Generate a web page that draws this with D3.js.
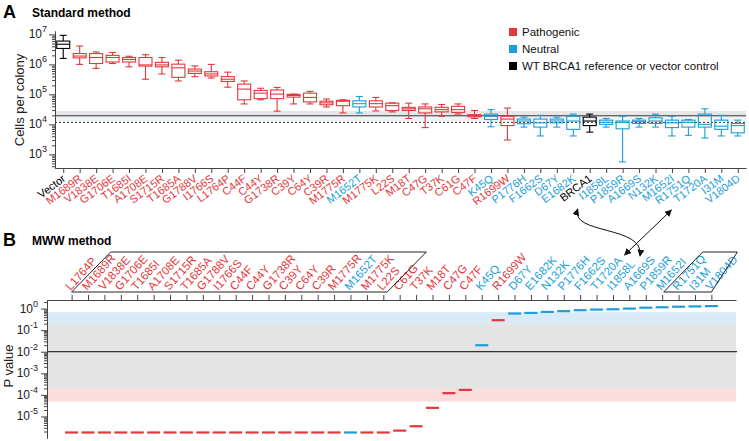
<!DOCTYPE html>
<html><head><meta charset="utf-8">
<script src="https://cdnjs.cloudflare.com/ajax/libs/d3/7.8.5/d3.min.js"></script>
<style>body{margin:0;background:#fff}svg{display:block;font-family:"Liberation Sans",Arial,sans-serif}</style>
</head><body><svg id="c" width="749" height="441"></svg>
<script>
// ---------- Panel A data (cells per colony, box plots) ----------
const catsA = ["Vector","M1689R","V1838E","G1706E","T1685I","A1708E","S1715R","T1685A","G1788V","I1766S","L1764P","C44F","C44Y","G1738R","C39Y","C64Y","C39R","M1775R","M1652T","M1775K","L22S","M18T","C47G","T37K","C61G","C47F","K45Q","R1699W","P1776H","F1662S","D67Y","E1682K","BRCA1","I1858L","P1859R","A1669S","N132K","M1652I","R1751Q","T1720A","I31M","V1804D"];
const groupA = ["w","p","p","p","p","p","p","p","p","p","p","p","p","p","p","p","p","p","n","p","p","p","p","p","p","p","n","p","n","n","n","n","w","n","n","n","n","n","n","n","n","n"];
const lowA  = [1.58e6,1.0e6,7.4e5,1.07e6,8.3e5,3.2e5,4.8e5,2.8e5,3.9e5,3.5e5,1.74e5,4.8e4,6.6e4,2.76e4,4.8e4,4.8e4,3.8e4,2.4e4,2.4e4,2.8e4,2.6e4,1.57e4,7.8e3,1.86e4,2.2e4,1.57e4,8.3e3,3.0e3,8.1e3,4.1e3,8.1e3,4.1e3,5.5e3,8.1e3,560,8.1e3,8.1e3,4.1e3,4.3e3,3.5e3,4.1e3,4.1e3];
const q1A   = [3.4e6,1.65e6,1.07e6,1.2e6,1.2e6,8.8e5,8.3e5,3.7e5,5.0e5,4.1e5,2.7e5,6.6e4,7.2e4,7.2e4,8.1e4,5.6e4,4.5e4,4.2e4,3.8e4,3.8e4,2.9e4,2.9e4,2.4e4,2.6e4,2.5e4,1.78e4,1.45e4,9.1e3,1.05e4,8.1e3,1.12e4,6.8e3,9.1e3,1.0e4,7.1e3,1.07e4,1.07e4,7.8e3,8.1e3,8.1e3,6.8e3,5.2e3];
const medA  = [4.7e6,1.9e6,1.7e6,1.7e6,1.46e6,9.6e5,9.6e5,7.7e5,6.0e5,4.8e5,3.2e5,1.5e5,1.1e5,1.02e5,9.2e4,7.9e4,5.2e4,5.9e4,4.9e4,4.9e4,4.2e4,3.3e4,3.3e4,3.1e4,3.1e4,1.95e4,1.86e4,1.5e4,1.29e4,1.12e4,1.29e4,1.29e4,1.29e4,1.17e4,1.17e4,1.23e4,1.29e4,1.12e4,1.17e4,1.0e4,8.7e3,9.1e3];
const q3A   = [6.0e6,2.3e6,2.3e6,2.0e6,1.7e6,1.7e6,1.17e6,1.02e6,7.0e5,5.7e5,3.9e5,2.2e5,1.35e5,1.4e5,1.0e5,1.1e5,5.9e4,6.3e4,6.1e4,6.1e4,5.1e4,3.7e4,3.8e4,3.7e4,4.0e4,2.1e4,2.2e4,1.86e4,1.5e4,1.5e4,1.5e4,1.86e4,1.74e4,1.38e4,1.29e4,1.38e4,1.66e4,1.38e4,1.38e4,2.2e4,1.38e4,1.07e4];
const highA = [9.3e6,4.1e6,2.6e6,2.5e6,1.87e6,2.1e6,1.7e6,1.38e6,8.9e5,1.0e6,5.5e5,2.8e5,1.6e5,1.7e5,1.02e5,1.26e5,7.0e4,6.6e4,8.5e4,7.9e4,5.2e4,5.1e4,4.8e4,4.6e4,4.8e4,2.9e4,3.1e4,3.5e4,1.74e4,2.0e4,1.74e4,2.2e4,2.2e4,1.57e4,1.86e4,1.57e4,2.2e4,1.86e4,1.45e4,3.3e4,2.0e4,1.38e4];
const bandA = [1.93e4, 2.8e4];      // gray reference band
const bandA2 = [1.25e4, 1.93e4];    // pale band
const refLineA = 1.93e4;            // solid line
const dotLineA = 1.16e4;            // dotted line
const yTicksA = [1e3,1e4,1e5,1e6,1e7];

// ---------- Panel B data (MWW p values) ----------
const catsB = ["L1764P","M1689R","V1838E","G1706E","T1685I","A1708E","S1715R","T1685A","G1788V","I1766S","C44F","C44Y","G1738R","C39Y","C64Y","C39R","M1775R","M1652T","M1775K","L22S","C61G","T37K","M18T","C47G","C47F","K45Q","R1699W","D67Y","E1682K","N132K","P1776H","F1662S","T1720A","I1858L","A1669S","P1859R","M1652I","R1751Q","I31M","V1804D"];
const groupB = ["p","p","p","p","p","p","p","p","p","p","p","p","p","p","p","p","p","n","p","p","p","p","p","p","p","n","p","n","n","n","n","n","n","n","n","n","n","n","n","n"];
const pB = [1.8e-6,1.8e-6,1.8e-6,1.8e-6,1.8e-6,1.8e-6,1.8e-6,1.8e-6,1.8e-6,1.8e-6,1.8e-6,1.8e-6,1.8e-6,1.8e-6,1.8e-6,1.8e-6,1.8e-6,1.8e-6,1.8e-6,1.8e-6,2.2e-6,3.5e-6,2.5e-5,1.2e-4,1.7e-4,0.02,0.29,0.59,0.63,0.70,0.76,0.84,0.90,0.93,1.0,1.1,1.15,1.22,1.26,1.3];
const bandBlue = [0.19, 0.68];
const bandGray = [1.84e-4, 0.19];
const bandPink = [4.9e-5, 1.84e-4];
const refLineB = 0.01;
const yTicksB = [1e-5,1e-4,1e-3,1e-2,1e-1,1];

const legendLabels = ["Pathogenic","Neutral","WT BRCA1 reference or vector control"];
const legendGroups = ["p","n","w"];

const col = g => g === "p" ? "#e3373b" : g === "n" ? "#1b9ed9" : "#000";
const svg = d3.select("#c");
const axisCol = "#444";

function minorTicks(domain) {
  const out = [];
  const lo = Math.floor(Math.log10(domain[0])), hi = Math.ceil(Math.log10(domain[1]));
  for (let e = lo; e <= hi; e++) for (let k = 2; k <= 9; k++) {
    const v = k * Math.pow(10, e);
    if (v >= domain[0] && v <= domain[1]) out.push(v);
  }
  return out;
}
function expLabel(g, v, x, y, size, supSize) {
  const e = Math.round(Math.log10(v));
  const t = g.append("text").attr("x", x).attr("y", y).attr("text-anchor", "end")
    .attr("font-size", size).attr("fill", "#222");
  t.append("tspan").text("10");
  t.append("tspan").attr("dy", -6).attr("font-size", supSize).text(String(e));
}
function styleAxis(g) {
  g.selectAll("path,line").attr("stroke", axisCol);
}

// ---------- Titles ----------
svg.append("text").attr("x", 3).attr("y", 18).attr("font-size", 18).attr("font-weight", "bold").text("A");
svg.append("text").attr("x", 32).attr("y", 17).attr("font-size", 12).attr("font-weight", "bold").text("Standard method");
svg.append("text").attr("x", 3).attr("y", 246).attr("font-size", 18).attr("font-weight", "bold").text("B");
svg.append("text").attr("x", 32).attr("y", 245).attr("font-size", 12).attr("font-weight", "bold").text("MWW method");

// ---------- Panel A ----------
const xA = d3.scalePoint().domain(catsA).range([55, 746]).padding(0.5);
const yA = d3.scaleLog().domain([350, 1.3e7]).range([168, 31]);
const gA = svg.append("g");
const [ax0, ax1] = xA.range();

gA.append("rect").attr("x", ax0).attr("width", ax1 - ax0)
  .attr("y", yA(bandA[1])).attr("height", yA(bandA[0]) - yA(bandA[1])).attr("fill", "#e6e6e6");
gA.append("rect").attr("x", ax0).attr("width", ax1 - ax0)
  .attr("y", yA(bandA2[1])).attr("height", yA(bandA2[0]) - yA(bandA2[1])).attr("fill", "#eef3f6");
gA.append("line").attr("x1", ax0).attr("x2", ax1).attr("y1", yA(refLineA)).attr("y2", yA(refLineA))
  .attr("stroke", "#333").attr("stroke-width", 1);
gA.append("line").attr("x1", ax0).attr("x2", ax1).attr("y1", yA(dotLineA)).attr("y2", yA(dotLineA))
  .attr("stroke", "#333").attr("stroke-width", 1).attr("stroke-dasharray", "2,2");

// boxes
const boxW = 13, capW = 7;
catsA.forEach((c, i) => {
  const x = xA(c), s = col(groupA[i]);
  const b = gA.append("g").attr("stroke", s).attr("stroke-width", 1.1).attr("fill", "none");
  b.append("line").attr("x1", x).attr("x2", x).attr("y1", yA(highA[i])).attr("y2", yA(q3A[i]));
  b.append("line").attr("x1", x).attr("x2", x).attr("y1", yA(q1A[i])).attr("y2", yA(lowA[i]));
  b.append("line").attr("x1", x - capW/2).attr("x2", x + capW/2).attr("y1", yA(highA[i])).attr("y2", yA(highA[i]));
  b.append("line").attr("x1", x - capW/2).attr("x2", x + capW/2).attr("y1", yA(lowA[i])).attr("y2", yA(lowA[i]));
  b.append("rect").attr("x", x - boxW/2).attr("width", boxW)
    .attr("y", yA(q3A[i])).attr("height", Math.max(1, yA(q1A[i]) - yA(q3A[i])));
  b.append("line").attr("x1", x - boxW/2).attr("x2", x + boxW/2).attr("y1", yA(medA[i])).attr("y2", yA(medA[i]));
});

// axes A
const yAxA1 = gA.append("g").attr("transform", `translate(${ax0},0)`)
  .call(d3.axisLeft(yA).tickValues(minorTicks(yA.domain())).tickSize(3).tickSizeOuter(0).tickFormat(""));
const yAxA2 = gA.append("g").attr("transform", `translate(${ax0},0)`)
  .call(d3.axisLeft(yA).tickValues(yTicksA).tickSize(6).tickSizeOuter(0).tickFormat(""));
styleAxis(yAxA1); styleAxis(yAxA2);
yTicksA.forEach(v => expLabel(gA, v, ax0 - 8, yA(v) + 4, 12, 9));
const xAxA = gA.append("g").attr("transform", `translate(0,${yA.range()[0]})`)
  .call(d3.axisBottom(xA).tickSize(5).tickSizeOuter(0).tickFormat(""));
styleAxis(xAxA);
catsA.forEach((c, i) => {
  gA.append("text").attr("text-anchor", "end").attr("font-size", 11).attr("fill", col(groupA[i]))
    .attr("transform", `translate(${xA(c) + 3},${yA.range()[0] + 12}) rotate(-37)`).text(c);
});
gA.append("text").attr("text-anchor", "middle").attr("font-size", 13).attr("fill", "#222")
  .attr("transform", `translate(24,100) rotate(-90)`).text("Cells per colony");

// legend
legendLabels.forEach((t, i) => {
  gA.append("rect").attr("x", 509).attr("y", 28 + i * 17).attr("width", 8).attr("height", 8).attr("fill", col(legendGroups[i]));
  gA.append("text").attr("x", 522).attr("y", 36 + i * 17).attr("font-size", 11.5).attr("fill", "#111").text(t);
});

// ---------- Panel B ----------
const xB = d3.scalePoint().domain(catsB).range([47, 736]).padding(1.5);
const yB = d3.scaleLog().domain([1e-6, 2.5]).range([438, 300]);
const gB = svg.append("g");
const [bx0, bx1] = xB.range();
function bandB(r, fill) {
  gB.append("rect").attr("x", bx0).attr("width", bx1 - bx0)
    .attr("y", yB(r[1])).attr("height", yB(r[0]) - yB(r[1])).attr("fill", fill);
}
bandB(bandBlue, "#d8ebf6");
bandB(bandGray, "#e5e4e4");
bandB(bandPink, "#fadcdc");
gB.append("line").attr("x1", bx0).attr("x2", bx1 + 1).attr("y1", yB(refLineB)).attr("y2", yB(refLineB))
  .attr("stroke", "#333").attr("stroke-width", 1.2);

catsB.forEach((c, i) => {
  gB.append("line").attr("x1", xB(c) - 6.5).attr("x2", xB(c) + 6.5)
    .attr("y1", yB(pB[i])).attr("y2", yB(pB[i]))
    .attr("stroke", col(groupB[i])).attr("stroke-width", 2.2);
});

const yAxB1 = gB.append("g").attr("transform", `translate(${bx0},0)`)
  .call(d3.axisLeft(yB).tickValues(minorTicks(yB.domain())).tickSize(3).tickSizeOuter(0).tickFormat(""));
const yAxB2 = gB.append("g").attr("transform", `translate(${bx0},0)`)
  .call(d3.axisLeft(yB).tickValues(yTicksB).tickSize(6).tickSizeOuter(0).tickFormat(""));
styleAxis(yAxB1); styleAxis(yAxB2);
yTicksB.forEach(v => expLabel(gB, v, bx0 - 9, yB(v) + 4, 12, 9));
const xAxB = gB.append("g").attr("transform", `translate(0,${yB.range()[1]})`)
  .call(d3.axisTop(xB).tickSize(5).tickSizeOuter(0).tickFormat(""));
styleAxis(xAxB);
const labY = yB.range()[1] - 9;
catsB.forEach((c, i) => {
  gB.append("text").attr("text-anchor", "start").attr("font-size", 11.5).attr("fill", col(groupB[i]))
    .attr("transform", `translate(${xB(c) - 1},${labY}) rotate(-48)`).text(c);
});
gB.append("text").attr("text-anchor", "middle").attr("font-size", 13).attr("fill", "#222")
  .attr("transform", `translate(13,366) rotate(-90)`).text("P value");

// group outlines around tied labels
const rise = 40, run = 39;
function outline(xl, xr, xtr) {
  const yb = labY + 1;
  gB.append("path").attr("fill", "none").attr("stroke", "#222").attr("stroke-width", 1)
    .attr("d", `M${xl},${yb} L${xr},${yb} L${xtr},${yb - rise} L${xl + run},${yb - rise} Z`);
}
outline(xB("L1764P"), xB("L22S") + 4, xB("L22S") + 4 + run);
outline(xB("M1652I") + 1.5, xB("V1804D"), xB("V1804D") + 26);

// arrows linking panels
const defs = svg.append("defs");
defs.append("marker").attr("id", "ah").attr("viewBox", "0 0 10 10").attr("refX", 9).attr("refY", 5)
  .attr("markerWidth", 7).attr("markerHeight", 7).attr("orient", "auto-start-reverse")
  .append("path").attr("d", "M0,0 L10,5 L0,10 z").attr("fill", "#111");
const a1s = [xA("BRCA1") - 12, 209], a1e = [xB("I1858L") + 27, 256];
svg.append("path").attr("fill", "none").attr("stroke", "#111").attr("stroke-width", 1)
  .attr("marker-start", "url(#ah)").attr("marker-end", "url(#ah)")
  .attr("d", `M${a1s[0]},${a1s[1]} C${a1s[0] - 8},235 ${a1e[0] + 5},225 ${a1e[0]},${a1e[1]}`);
const a2s = [xA("R1751Q") - 17, 210], a2e = [xB("T1720A") + 28, 255];
svg.append("path").attr("fill", "none").attr("stroke", "#111").attr("stroke-width", 1)
  .attr("marker-start", "url(#ah)").attr("marker-end", "url(#ah)")
  .attr("d", `M${a2s[0]},${a2s[1]} L${a2e[0]},${a2e[1]}`);
</script></body></html>
